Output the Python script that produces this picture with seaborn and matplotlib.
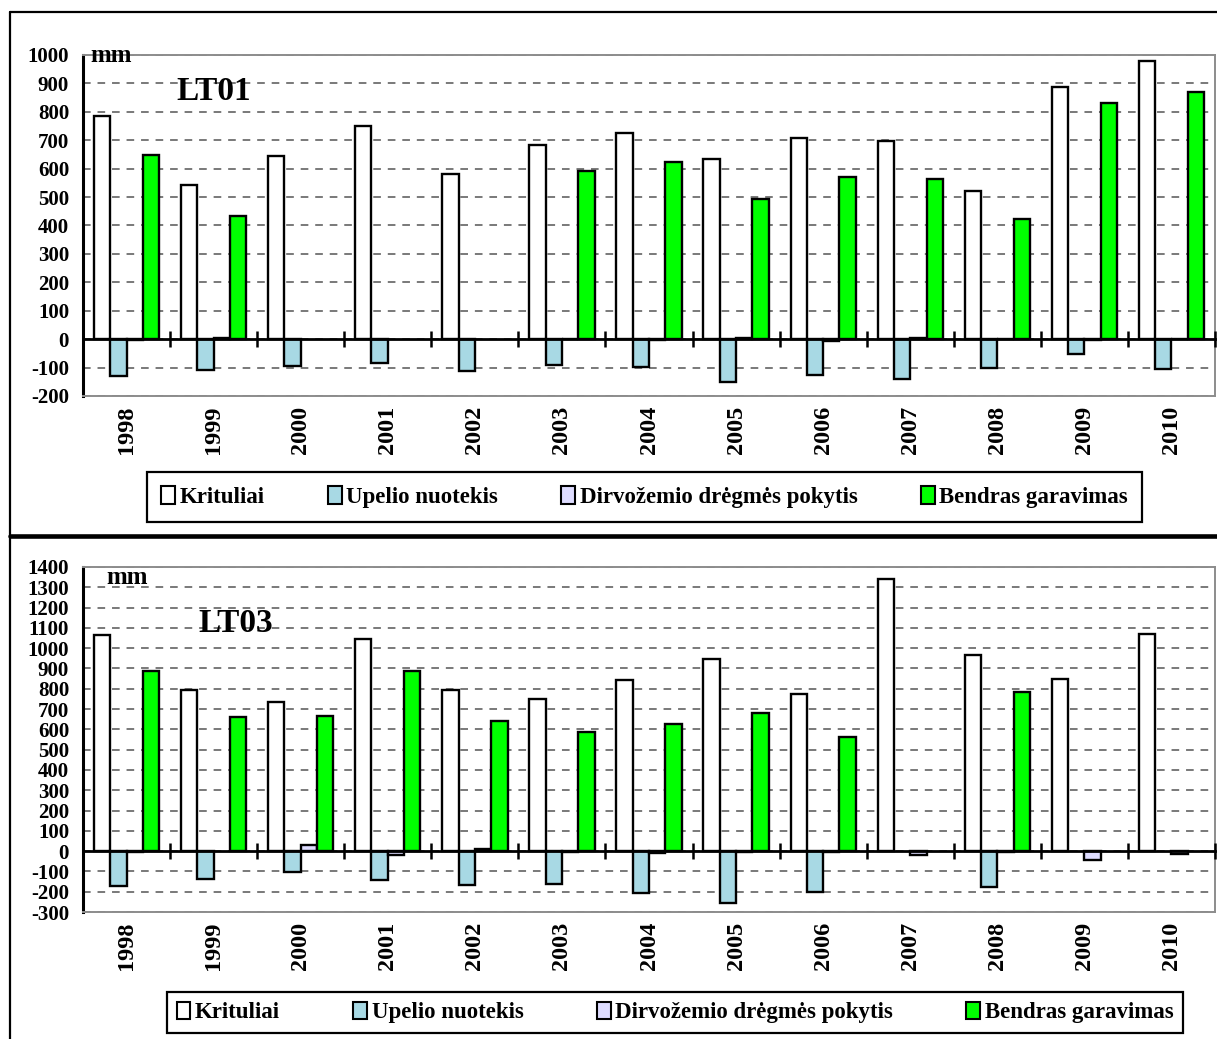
import numpy as np
import pandas as pd
import matplotlib
matplotlib.use("Agg")
import matplotlib.pyplot as plt
from matplotlib.lines import Line2D
from matplotlib.patches import Patch
import seaborn as sns

nan = np.nan

years = [str(y) for y in range(1998, 2011)]
series_names = ["Krituliai", "Upelio nuotekis",
                "Dirvožemio drėgmės pokytis", "Bendras garavimas"]

# LT01 water balance components, mm
lt01_krituliai = [785, 542, 643, 750, 582, 684, 726, 634, 708, 699, 523, 887, 979]
lt01_upelio = [-129, -110, -96, -85, -112, -92, -97, -149, -127, -141, -102, -52, -105]
lt01_dirvo = [-3, 3, nan, nan, nan, 1, -3, 4, -5, 4, 1, -3, 1]
lt01_garavimas = [649, 434, nan, nan, nan, 593, 622, 492, 569, 562, 424, 831, 870]

# LT03 water balance components, mm
lt03_krituliai = [1066, 795, 734, 1046, 795, 750, 844, 949, 775, 1342, 966, 847, 1068]
lt03_upelio = [-171, -135, -105, -140, -169, -163, -206, -258, -201, nan, -176, nan, nan]
lt03_dirvo = [-2, nan, 32, -20, 10, -5, -8, -3, -4, -20, -3, -45, -15]
lt03_garavimas = [890, 663, 666, 887, 642, 586, 628, 681, 564, nan, 786, nan, nan]

colors = ["#ffffff", "#a8d9e4", "#dedcff", "#00ff00"]
palette = dict(zip(series_names, colors))

sns.set_theme(style="white")
plt.rcParams["font.family"] = ["Liberation Serif", "DejaVu Serif"]
plt.rcParams["font.weight"] = "bold"
plt.rcParams["axes.unicode_minus"] = False
for key in ("text.color", "axes.labelcolor", "xtick.color", "ytick.color"):
    plt.rcParams[key] = "black"

W, H = 1217, 1039
fig = plt.figure(figsize=(W / 100, H / 100), dpi=100)


def fx(px):
    return px / W


def fy(py):
    return 1 - py / H


def draw_panel(rect, values, ymin, ymax, station, mm_pos, st_pos):
    ax = fig.add_axes(rect)
    df = pd.DataFrame({"Metai": years, **dict(zip(series_names, values))})
    long = df.melt(id_vars="Metai", var_name="Serija", value_name="mm").dropna()
    sns.barplot(data=long, x="Metai", y="mm", hue="Serija", order=years,
                hue_order=series_names, palette=palette, saturation=1,
                width=0.75, gap=0, edgecolor="black", linewidth=1.7,
                errorbar=None, legend=False, ax=ax)
    ax.set_xlim(-0.5, len(years) - 0.5)
    ax.set_ylim(ymin, ymax)
    ax.set_yticks(np.arange(ymin, ymax + 1, 100))
    ax.set_xlabel("")
    ax.set_ylabel("")
    ax.set_axisbelow(True)
    ax.yaxis.grid(True, linestyle=(0, (5, 4.5)), color="#555555", linewidth=1.1)
    ax.xaxis.grid(False)

    for side in ("top", "right", "bottom"):
        ax.spines[side].set_color("#8c8c8c")
        ax.spines[side].set_linewidth(1.4)
    ax.spines["left"].set_color("black")
    ax.spines["left"].set_linewidth(2.2)

    ax.tick_params(axis="y", direction="inout", length=10, width=2.0,
                   color="black", labelcolor="black", pad=5, labelsize=15)
    ax.tick_params(axis="x", length=0, pad=7, labelsize=17.5, labelrotation=90,
                   labelcolor="black")
    for lab in ax.get_xticklabels() + ax.get_yticklabels():
        lab.set_fontweight("bold")

    # zero line with category separators
    zero = ax.secondary_xaxis((0 - ymin) / (ymax - ymin))
    zero.set_xticks(np.arange(0.5, len(years), 1.0))
    zero.tick_params(direction="inout", length=12, width=1.8, color="black",
                     labelbottom=False, labeltop=False)
    zero.spines["bottom"].set_linewidth(2.0)
    zero.spines["bottom"].set_color("black")
    zero.set_zorder(5)

    ax.text(mm_pos[0], mm_pos[1], "mm", transform=ax.transAxes, color="black",
            fontsize=18, fontweight="bold", ha="left", va="center")
    ax.text(st_pos[0], st_pos[1], station, transform=ax.transAxes, color="black",
            fontsize=24, fontweight="bold", ha="left", va="center")
    return ax


# upper panel: LT01
rect1 = [fx(83), fy(396), fx(1215) - fx(83), fy(55) - fy(396)]
draw_panel(rect1, [lt01_krituliai, lt01_upelio, lt01_dirvo, lt01_garavimas],
           -200, 1000, "LT01",
           mm_pos=((90 - 83) / (1215 - 83), 1 - (54 - 55) / (396 - 55) - 0.005),
           st_pos=((176 - 83) / (1215 - 83), 1 - (91 - 55) / (396 - 55)))

# lower panel: LT03
rect2 = [fx(83), fy(912), fx(1215) - fx(83), fy(567) - fy(912)]
draw_panel(rect2, [lt03_krituliai, lt03_upelio, lt03_dirvo, lt03_garavimas],
           -300, 1400, "LT03",
           mm_pos=((106 - 83) / (1215 - 83), 1 - (577 - 567) / (912 - 567)),
           st_pos=((198 - 83) / (1215 - 83), 1 - (624 - 567) / (912 - 567)))

handles = [Patch(facecolor=c, edgecolor="black", linewidth=1.5) for c in colors]
legend_font = {"family": ["Liberation Serif", "DejaVu Serif"], "weight": "bold",
               "size": 16.5}


def add_legend(x0, x1, y0, y1, borderpad):
    leg = fig.legend(handles, series_names, loc="center", ncol=4, mode="expand",
                     bbox_to_anchor=(fx(x0), fy(y1), fx(x1) - fx(x0), fy(y0) - fy(y1)),
                     frameon=True, fancybox=False, framealpha=1,
                     edgecolor="black", borderaxespad=0, borderpad=borderpad,
                     handlelength=0.6, handleheight=0.8, handletextpad=0.2,
                     columnspacing=1.0, prop=legend_font, labelcolor="black")
    leg.get_frame().set_linewidth(1.6)
    return leg


add_legend(147, 1142, 470, 524, 0.62)
add_legend(167, 1183, 990, 1035, 0.42)

# outer frame and panel separator
fig.add_artist(Line2D([fx(10), 1], [fy(12), fy(12)], color="black", lw=1.6))
fig.add_artist(Line2D([fx(10), fx(10)], [0, fy(12)], color="black", lw=1.6))
fig.add_artist(Line2D([fx(10), 1], [fy(535.5), fy(535.5)], color="black", lw=3.3))

fig.savefig("out.png", dpi=100)
